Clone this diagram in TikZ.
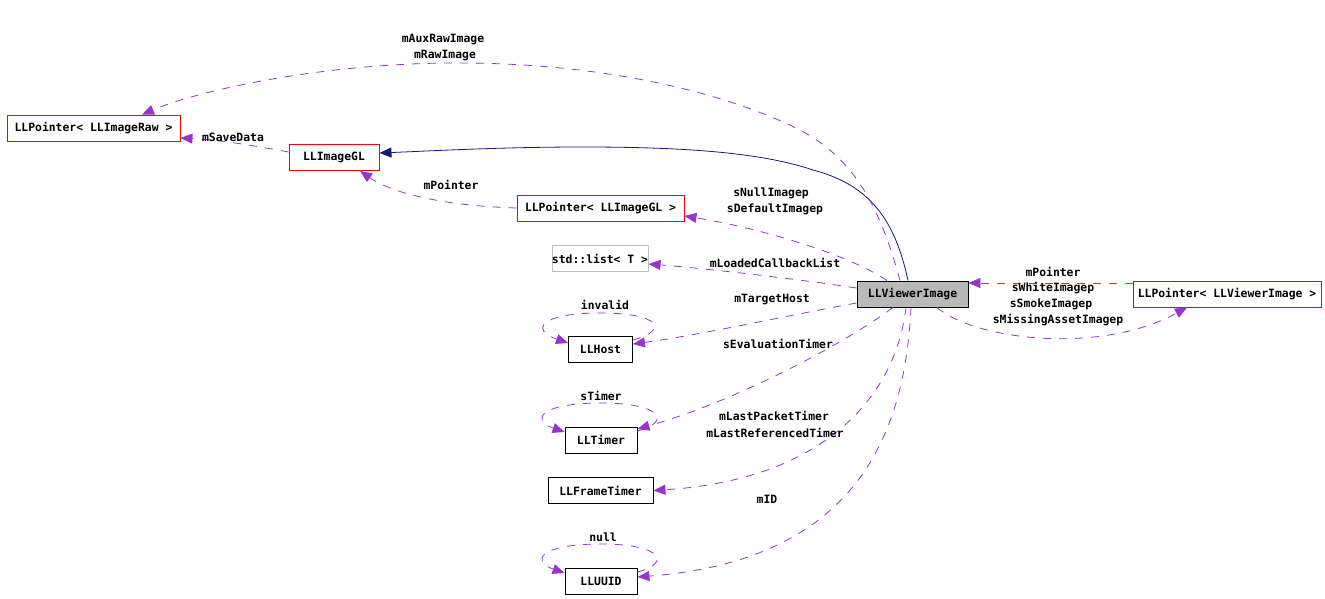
\documentclass[tikz,border=0pt]{standalone}
\usepackage{fontspec}
\setmonofont{DejaVu Sans Mono}
\usepackage{tikz}
\usetikzlibrary{arrows.meta, positioning, calc}
\definecolor{usecol}{HTML}{9A32CD}
\definecolor{inhcol}{HTML}{191970}
\newcommand{\cfont}{\ttfamily\bfseries\fontsize{11.4}{12}\selectfont}

\begin{document}
\begin{tikzpicture}[x=1pt, y=-1pt, font=\cfont,
    cls/.style={draw=black, fill=white, line width=0.9pt, inner sep=0pt, minimum height=26pt},
    ptr/.style={cls, draw=red},
    tmpl/.style={cls, draw=gray!50},
    cur/.style={cls, fill=gray!55},
    use/.style={-{Triangle[length=12pt,width=10pt]}, draw=usecol, line width=0.8pt, dash pattern=on 8pt off 8pt},
    inh/.style={-{Triangle[length=12pt,width=10pt]}, draw=inhcol, line width=0.8pt},
    lbl/.style={inner sep=0pt}]
  \useasboundingbox (0,0) rectangle (1325,599);
  \node[ptr, minimum width=173pt] (raw) at (93.5,128) {LLPointer< LLImageRaw >};
  \node[ptr, minimum width=90pt] (gl) at (334,157.5) {LLImageGL};
  \node[ptr, minimum width=167pt] (glptr) at (600.5,208) {LLPointer< LLImageGL >};
  \node[tmpl, minimum width=90pt] (lst) at (600,258.5) {std::list< T >};
  \node[cur, minimum width=111pt] (vi) at (912.5,294) {LLViewerImage};
  \node[ptr, minimum width=188pt] (viptr) at (1227,294) {LLPointer< LLViewerImage >};
  \node[cls, minimum width=64pt] (host) at (600.5,349.5) {LLHost};
  \node[cls, minimum width=72pt] (timer) at (601,440) {LLTimer};
  \node[cls, minimum width=105pt] (frame) at (600.5,490.5) {LLFrameTimer};
  \node[cls, minimum width=72pt] (uuid) at (601,581.5) {LLUUID};

  \draw[inh] ([xshift=-4.5pt]vi.north) .. controls (895,220) and (870,185) .. (813,170)
    .. controls (760,152) and (680,147) .. (583,147) .. controls (500,147) and (430,151) .. ([yshift=4.5pt]gl.east);
  \draw[use] ([xshift=-12.5pt]vi.north) .. controls (878,200) and (850,150) .. (783,122)
    .. controls (700,85) and (580,62) .. (450,63) .. controls (320,64) and (200,90) .. ([xshift=48.5pt]raw.north);
  \draw[use] ([yshift=5.5pt]gl.west) .. controls (250,145) and (220,140) .. ([yshift=-10pt]raw.east);
  \draw[use] (glptr.west) .. controls (450,206) and (395,195) .. ([xshift=26pt]gl.south);
  \draw[use] ([xshift=-25.5pt]vi.north) .. controls (850,255) and (760,228) .. ([yshift=-8pt]glptr.east);
  \draw[use] ([yshift=6pt]vi.west) .. controls (790,278) and (700,268) .. ([yshift=-5.5pt]lst.east);
  \draw[use] ([yshift=-9pt]vi.west) .. controls (790,315) and (700,335) .. ([yshift=5.5pt]host.east);
  \draw[use] ([yshift=9.5pt]host.east) .. controls (670,330) and (660,313) .. (600,313)
    .. controls (540,313) and (530,330) .. ([yshift=6.5pt]host.west);
  \draw[use] ([xshift=-19.5pt]vi.south) .. controls (850,340) and (740,400) .. ([yshift=11pt]timer.east);
  \draw[use] ([yshift=9pt]timer.east) .. controls (672,422) and (662,403) .. (601,403)
    .. controls (540,403) and (530,420) .. ([yshift=8pt]timer.west);
  \draw[use] ([xshift=-6.5pt]vi.south) .. controls (895,400) and (820,480) .. (frame.east);
  \draw[use] ([xshift=-1.5pt]vi.south) .. controls (905,430) and (860,560) .. ([yshift=4.5pt]uuid.east);
  \draw[use] ([yshift=9.5pt]uuid.east) .. controls (672,563) and (662,544) .. (601,544)
    .. controls (540,544) and (530,561) .. ([yshift=8.5pt]uuid.west);
  \draw[use] ([yshift=11pt]viptr.west) -- ([yshift=11pt]vi.east);
  \draw[use] ([xshift=24.5pt]vi.south) .. controls (975,340) and (1100,355) .. ([xshift=-40pt]viptr.south);

  \node[lbl] (laux) at (443,40) {mAuxRawImage};
  \node[lbl] (lraw) at (445,56) {mRawImage};
  \node[lbl] (lsave) at (233,137) {mSaveData};
  \node[lbl] (lptrgl) at (451,185) {mPointer};
  \node[lbl] (lnull) at (771,193) {sNullImagep};
  \node[lbl] (ldef) at (775,209) {sDefaultImagep};
  \node[lbl] (lcb) at (775,263) {mLoadedCallbackList};
  \node[lbl] (lhost) at (772,300) {mTargetHost};
  \node[lbl] (linv) at (605,305) {invalid};
  \node[lbl] (leval) at (778,344) {sEvaluationTimer};
  \node[lbl] (lst2) at (601,396) {sTimer};
  \node[lbl] (lpack) at (774,416) {mLastPacketTimer};
  \node[lbl] (lref) at (775,433) {mLastReferencedTimer};
  \node[lbl] (lid) at (767,499) {mID};
  \node[lbl] (lnul) at (603,537) {null};
  \node[lbl] (lptrvi) at (1053,272) {mPointer};
  \node[lbl] (lwhite) at (1053,288) {sWhiteImagep};
  \node[lbl] (lsmoke) at (1051,304) {sSmokeImagep};
  \node[lbl] (lmiss) at (1058,320) {sMissingAssetImagep};
\end{tikzpicture}
\end{document}
